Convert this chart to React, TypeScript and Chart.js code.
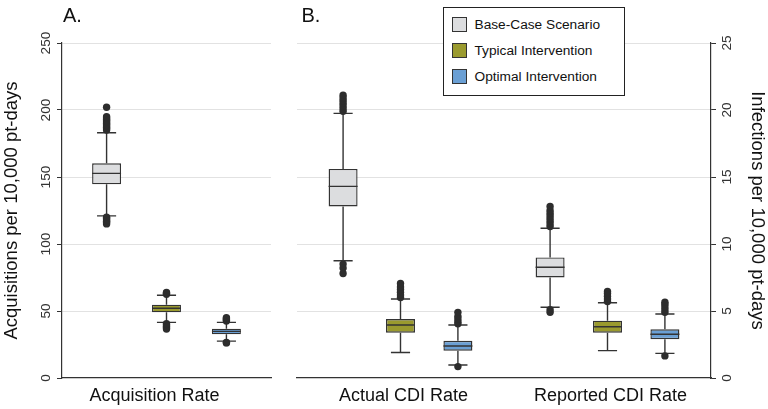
import React, { useEffect, useRef } from "react";
import { Chart, registerables } from "chart.js";

Chart.register(...registerables);

const FONT = '"Liberation Sans", Arial, Helvetica, sans-serif';

// ---- categories / labels ----
const scenarios = ["Base-Case Scenario", "Typical Intervention", "Optimal Intervention"];
const scenarioFills = ["#dcdddf", "#9a9a2e", "#6a9fd4"];
const categoriesA = ["Acquisition Rate"];
const categoriesB = ["Actual CDI Rate", "Reported CDI Rate"];
const ticksA = [0, 50, 100, 150, 200, 250];
const ticksB = [0, 5, 10, 15, 20, 25];

// ---- panel A: acquisitions per 10,000 pt-days  [lower whisker, q1, median, q3, upper whisker] ----
const acqBase = [121, 144.5, 152.7, 160.2, 183];
const acqTypical = [41.5, 49, 52, 54.7, 61.7];
const acqOptimal = [27.5, 32.6, 34.8, 36.8, 41.5];
const acqBaseOut = [115, 116, 117, 118, 119, 120, 185, 186, 187, 188, 189, 190, 191, 192, 193, 194, 195, 202];
const acqTypicalOut = [62.5, 63.2, 63.8, 36.5, 37.5, 38.5, 39.5, 40.5];
const acqOptimalOut = [42.5, 43.3, 44.2, 45, 26.5, 26.2];

// ---- panel B: infections per 10,000 pt-days ----
const actualBase = [8.75, 12.8, 14.3, 15.6, 19.75];
const actualTypical = [1.9, 3.38, 3.95, 4.4, 5.9];
const actualOptimal = [0.97, 2.04, 2.39, 2.78, 3.96];
const reportedBase = [5.28, 7.5, 8.26, 9.0, 11.17];
const reportedTypical = [2.04, 3.38, 3.83, 4.28, 5.62];
const reportedOptimal = [1.84, 2.89, 3.26, 3.63, 4.78];
const actualBaseOut = [19.9, 20.1, 20.3, 20.5, 20.7, 20.9, 21.1, 8.5, 8.2, 7.8];
const actualTypicalOut = [6.0, 6.2, 6.4, 6.6, 6.8, 7.05];
const actualOptimalOut = [4.05, 4.2, 4.4, 4.6, 4.9, 0.85];
const reportedBaseOut = [11.3, 11.5, 11.7, 11.9, 12.1, 12.3, 12.5, 12.8, 5.1, 4.9];
const reportedTypicalOut = [5.7, 5.9, 6.1, 6.3, 6.45];
const reportedOptimalOut = [4.9, 5.1, 5.3, 5.5, 5.65, 1.65];

const statsA = [[acqBase], [acqTypical], [acqOptimal]];
const outA = [[acqBaseOut], [acqTypicalOut], [acqOptimalOut]];
const statsB = [
  [actualBase, reportedBase],
  [actualTypical, reportedTypical],
  [actualOptimal, reportedOptimal],
];
const outB = [
  [actualBaseOut, reportedBaseOut],
  [actualTypicalOut, reportedTypicalOut],
  [actualOptimalOut, reportedOptimalOut],
];

const INK = "#333333";

const boxPlugin = {
  id: "boxWhiskers",
  afterDatasetsDraw(chart: any) {
    const ctx = chart.ctx;
    const ys = chart.scales.y;
    const py = (v: number) => ys.getPixelForValue(v);
    chart.data.datasets.forEach((ds: any, i: number) => {
      const meta = chart.getDatasetMeta(i);
      meta.data.forEach((bar: any, j: number) => {
        const [lw, q1, med, q3, uw] = ds.stats[j];
        const x = bar.x;
        const w = bar.width;
        const cap = w * 0.66;
        ctx.save();
        ctx.strokeStyle = INK;
        ctx.lineWidth = 1.4;
        ctx.beginPath();
        ctx.moveTo(x, py(q3));
        ctx.lineTo(x, py(uw));
        ctx.moveTo(x, py(q1));
        ctx.lineTo(x, py(lw));
        ctx.moveTo(x - cap / 2, py(uw));
        ctx.lineTo(x + cap / 2, py(uw));
        ctx.moveTo(x - cap / 2, py(lw));
        ctx.lineTo(x + cap / 2, py(lw));
        ctx.moveTo(x - w / 2, py(med));
        ctx.lineTo(x + w / 2, py(med));
        ctx.stroke();
        ctx.fillStyle = "#2d2d2d";
        for (const v of ds.outliers[j]) {
          ctx.beginPath();
          ctx.arc(x, py(v), 3.7, 0, Math.PI * 2);
          ctx.fill();
        }
        ctx.restore();
      });
    });
  },
};

const labelPlugin = {
  id: "rotatedTicks",
  afterDraw(chart: any, _args: any, opts: any) {
    const ctx = chart.ctx;
    const sc = chart.scales.y;
    ctx.save();
    ctx.font = `13.7px ${FONT}`;
    ctx.fillStyle = "#333";
    ctx.textAlign = "center";
    ctx.textBaseline = "middle";
    sc.ticks.forEach((t: any) => {
      const p = sc.getPixelForValue(t.value);
      const px = sc.position === "left" ? sc.right - 15.5 : sc.left + 16.5;
      ctx.save();
      ctx.translate(px, p);
      ctx.rotate(-Math.PI / 2);
      ctx.fillText(String(t.value), 0, 0);
      ctx.restore();
    });
    ctx.font = `20px ${FONT}`;
    ctx.fillStyle = "#111";
    ctx.textAlign = "left";
    ctx.textBaseline = "alphabetic";
    ctx.fillText(opts.letter, chart.chartArea.left + opts.dx, 22);
    ctx.restore();
  },
};

function makeDatasets(stats: number[][][], outs: number[][][], catPct: number, barPct: number) {
  return scenarios.map((name, i) => ({
    label: name,
    data: stats[i].map((s) => [s[1], s[3]]),
    backgroundColor: scenarioFills[i],
    borderColor: INK,
    borderWidth: 1.4,
    borderSkipped: false,
    categoryPercentage: catPct,
    barPercentage: barPct,
    stats: stats[i],
    outliers: outs[i],
  }));
}

function gridColor(c: any) {
  return c.tick && c.tick.value === 0 ? "rgba(0,0,0,0)" : "#e2e2e2";
}

function buildOptions(
  side: "left" | "right",
  ticks: number[],
  title: string,
  padding: any,
  yWidth: number,
  labelOffset: number,
  letter: string,
  dx: number
) {
  return {
    responsive: false,
    animation: false,
    layout: { padding },
    plugins: {
      legend: { display: false },
      tooltip: { enabled: false },
      rotatedTicks: { letter, dx },
    },
    scales: {
      x: {
        type: "category",
        grid: { display: false, drawTicks: false },
        border: { display: true, color: INK, width: 1.2 },
        ticks: { font: { size: 18, family: FONT }, color: "#111", padding: 7, labelOffset },
        afterFit: (s: any) => {
          s.height = 31;
        },
      },
      y: {
        position: side,
        min: ticks[0],
        max: ticks[ticks.length - 1],
        afterBuildTicks: (s: any) => {
          s.ticks = ticks.map((v) => ({ value: v }));
        },
        ticks: { display: false },
        grid: { color: gridColor, tickColor: INK, tickLength: 5, drawTicks: true, lineWidth: 1 },
        border: { display: true, color: INK, width: 1.2 },
        title: {
          display: true,
          text: title,
          font: { size: 18.5, family: FONT },
          color: "#111",
          padding: { top: side === "left" ? 1 : 0, bottom: 0 },
        },
        afterFit: (s: any) => {
          s.width = yWidth;
        },
      },
    },
  };
}

export default function App() {
  const refA = useRef<HTMLCanvasElement>(null);
  const refB = useRef<HTMLCanvasElement>(null);

  useEffect(() => {
    const a = new Chart(refA.current as HTMLCanvasElement, {
      type: "bar",
      data: { labels: categoriesA, datasets: makeDatasets(statsA, outA, 0.86, 0.483) as any },
      options: buildOptions(
        "left",
        ticksA,
        "Acquisitions per 10,000 pt-days",
        { left: 0, right: 9, top: 43, bottom: 0 },
        62,
        -12,
        "A.",
        1
      ) as any,
      plugins: [boxPlugin, labelPlugin],
    });
    const b = new Chart(refB.current as HTMLCanvasElement, {
      type: "bar",
      data: { labels: categoriesB, datasets: makeDatasets(statsB, outB, 0.832, 0.505) as any },
      options: buildOptions(
        "right",
        ticksB,
        "Infections per 10,000 pt-days",
        { left: 17, right: 0, top: 43, bottom: 0 },
        57,
        3,
        "B.",
        4.5
      ) as any,
      plugins: [boxPlugin, labelPlugin],
    });
    return () => {
      a.destroy();
      b.destroy();
    };
  }, []);

  const rowTops = [3, 29, 55.7];

  return (
    <div style={{ position: "absolute", left: 0, top: 0, width: 768, height: 409, background: "#fff", overflow: "hidden" }}>
      <canvas ref={refA} width={280} height={409} style={{ position: "absolute", left: 0, top: 0, width: 280, height: 409 }} />
      <canvas ref={refB} width={488} height={409} style={{ position: "absolute", left: 280, top: 0, width: 488, height: 409 }} />
      <div
        style={{
          position: "absolute",
          left: 443,
          top: 7,
          width: 180,
          height: 87,
          border: "1px solid #222",
          background: "#fff",
          fontFamily: FONT,
          fontSize: "13.7px",
          color: "#111",
        }}
      >
        {scenarios.map((name, i) => (
          <div
            key={name}
            style={{ position: "absolute", left: 8, top: rowTops[i], height: 26, display: "flex", alignItems: "center", whiteSpace: "nowrap" }}
          >
            <span
              style={{
                display: "inline-block",
                width: 13,
                height: 13,
                border: "1px solid #333",
                background: scenarioFills[i],
                marginRight: 7.5,
              }}
            />
            <span>{name}</span>
          </div>
        ))}
      </div>
    </div>
  );
}
